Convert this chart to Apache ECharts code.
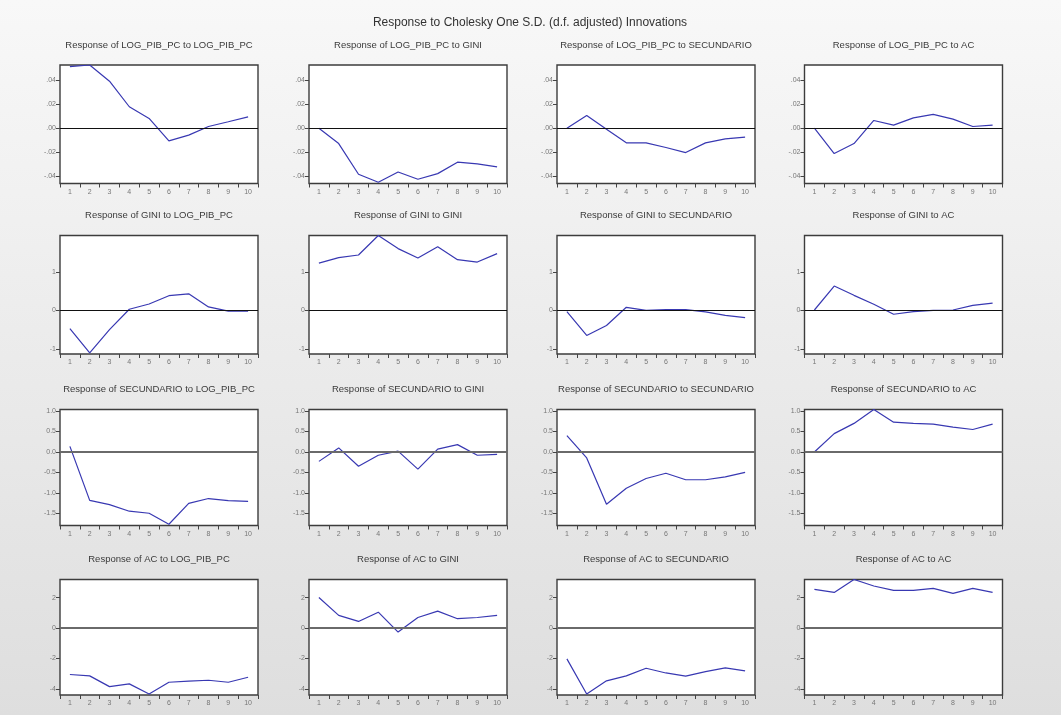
<!DOCTYPE html>
<html>
<head>
<meta charset="utf-8">
<script src="https://cdn.jsdelivr.net/npm/echarts@6/dist/echarts.min.js"></script>
<style>
  html, body { margin: 0; padding: 0; }
  #chart { width: 1061px; height: 715px; }
</style>
</head>
<body>
<div id="chart"></div>
<script>
// Impulse horizon (periods)
const periods = ['1', '2', '3', '4', '5', '6', '7', '8', '9', '10'];
const variables = ['LOG_PIB_PC', 'GINI', 'SECUNDARIO', 'AC'];

// Responses of LOG_PIB_PC
const logPibToLogPib   = [0.0512, 0.0525, 0.039, 0.0178, 0.0081, -0.0106, -0.0058, 0.0014, 0.0053, 0.0094];
const logPibToGini     = [0.0, -0.0128, -0.0383, -0.045, -0.0364, -0.0425, -0.0378, -0.0283, -0.0297, -0.0322];
const logPibToSecund   = [0.0, 0.0106, -0.001, -0.0122, -0.0122, -0.0161, -0.0203, -0.0122, -0.0089, -0.0075];
const logPibToAc       = [0.0, -0.0211, -0.0128, 0.0064, 0.0025, 0.0086, 0.0114, 0.0075, 0.0014, 0.0025];

// Responses of GINI
const giniToLogPib     = [-0.47, -1.1, -0.5, 0.03, 0.165, 0.38, 0.43, 0.09, -0.02, -0.02];
const giniToGini       = [1.226, 1.365, 1.435, 1.94, 1.6, 1.357, 1.65, 1.313, 1.252, 1.47];
const giniToSecund     = [-0.03, -0.65, -0.39, 0.08, 0.0, 0.02, 0.02, -0.04, -0.13, -0.19];
const giniToAc         = [0.01, 0.63, 0.39, 0.16, -0.1, -0.03, 0.0, 0.01, 0.13, 0.19];

// Responses of SECUNDARIO
const secundToLogPib   = [0.137, -1.185, -1.29, -1.45, -1.5, -1.77, -1.26, -1.14, -1.19, -1.21];
const secundToGini     = [-0.23, 0.1, -0.35, -0.08, 0.02, -0.42, 0.07, 0.18, -0.08, -0.06];
const secundToSecund   = [0.4, -0.145, -1.28, -0.89, -0.65, -0.52, -0.68, -0.68, -0.61, -0.5];
const secundToAc       = [0.0, 0.45, 0.7, 1.04, 0.73, 0.7, 0.68, 0.61, 0.55, 0.68];

// Responses of AC
const acToLogPib       = [-3.05, -3.14, -3.85, -3.67, -4.33, -3.56, -3.49, -3.43, -3.56, -3.23];
const acToGini         = [2.02, 0.84, 0.44, 1.05, -0.26, 0.7, 1.12, 0.62, 0.7, 0.84];
const acToSecund       = [-2.02, -4.33, -3.47, -3.14, -2.64, -2.95, -3.16, -2.86, -2.62, -2.81];
const acToAc           = [2.55, 2.35, 3.2, 2.77, 2.48, 2.48, 2.62, 2.29, 2.62, 2.35];

// Value-axis ticks shared along each row
const rowTickValues = [
  [-0.04, -0.02, 0, 0.02, 0.04],
  [-1, 0, 1],
  [-1.5, -1.0, -0.5, 0, 0.5, 1.0],
  [-4, -2, 0, 2]
];
const rowTickLabels = [
  ['-.04', '-.02', '.00', '.02', '.04'],
  ['-1', '0', '1'],
  ['-1.5', '-1.0', '-0.5', '0.0', '0.5', '1.0'],
  ['-4', '-2', '0', '2']
];
const rowMin = [-0.046, -1.13, -1.8, -4.4];
const rowMax = [0.0525, 1.94, 1.04, 3.2];

const responses = [
  [logPibToLogPib, logPibToGini, logPibToSecund, logPibToAc],
  [giniToLogPib, giniToGini, giniToSecund, giniToAc],
  [secundToLogPib, secundToGini, secundToSecund, secundToAc],
  [acToLogPib, acToGini, acToSecund, acToAc]
];

// Panel geometry
const colLeft = [60, 309, 557, 804.5];
const panelW = 198;
const rowTop = [65, 235.5, 409.5, 579.5];
const rowH = [118.5, 118.5, 116, 115.5];
const zeroStyle = [
  { color: '#111', width: 1 },
  { color: '#111', width: 1 },
  { color: '#6a6a6a', width: 2 },
  { color: '#6a6a6a', width: 2 }
];

const grid = [], xAxis = [], yAxis = [], series = [], graphic = [];

graphic.push({
  type: 'text', silent: true,
  style: {
    x: 530, y: 22.5, text: 'Response to Cholesky One S.D. (d.f. adjusted) Innovations',
    font: '12px "Liberation Sans", Arial, sans-serif', fill: '#333',
    textAlign: 'center', textVerticalAlign: 'middle'
  }
});

for (let r = 0; r < 4; r++) {
  for (let c = 0; c < 4; c++) {
    const i = r * 4 + c;
    grid.push({
      left: colLeft[c], top: rowTop[r], width: panelW, height: rowH[r],
      show: true, backgroundColor: '#fff', borderColor: '#3c3c3c', borderWidth: 1.4
    });
    xAxis.push({
      type: 'category', gridIndex: i, data: periods, boundaryGap: true,
      position: 'bottom',
      axisLine: { show: false, onZero: false },
      axisTick: { show: true, length: 4, lineStyle: { color: '#444', width: 1 } },
      axisLabel: { fontSize: 7, color: '#777', margin: 5, interval: 0,
                   fontFamily: '"Liberation Sans", Arial, sans-serif' },
      splitLine: { show: false }
    });
    const ticks = rowTickValues[r], labels = rowTickLabels[r];
    yAxis.push({
      type: 'value', gridIndex: i, min: rowMin[r], max: rowMax[r],
      position: 'left',
      axisLine: { show: false, onZero: false },
      axisTick: { show: true, length: 4, customValues: ticks, lineStyle: { color: '#444', width: 1 } },
      axisLabel: {
        fontSize: 7, color: '#777', margin: 4, customValues: ticks,
        fontFamily: '"Liberation Sans", Arial, sans-serif',
        formatter: (v) => {
          let best = 0;
          ticks.forEach((t, k) => { if (Math.abs(t - v) < Math.abs(ticks[best] - v)) best = k; });
          return labels[best];
        }
      },
      splitLine: { show: false }
    });
    series.push({
      type: 'line', xAxisIndex: i, yAxisIndex: i, data: responses[r][c],
      symbol: 'none', smooth: false,
      lineStyle: { color: '#3838b2', width: 1.2 },
      markLine: {
        silent: true, symbol: 'none', animation: false,
        label: { show: false },
        lineStyle: { color: zeroStyle[r].color, width: zeroStyle[r].width, type: 'solid' },
        data: [{ yAxis: 0 }]
      },
      z: 3
    });
    graphic.push({
      type: 'text', silent: true,
      style: {
        x: colLeft[c] + panelW / 2, y: rowTop[r] - 20,
        text: 'Response of ' + variables[r] + ' to ' + variables[c],
        font: '9.5px "Liberation Sans", Arial, sans-serif', fill: '#3a3a3a',
        textAlign: 'center', textVerticalAlign: 'middle'
      }
    });
  }
}

const chart = echarts.init(document.getElementById('chart'), null, { renderer: 'canvas' });
chart.setOption({
  animation: false,
  backgroundColor: {
    type: 'linear', x: 0, y: 0, x2: 0, y2: 1,
    colorStops: [{ offset: 0, color: '#f8f8f8' }, { offset: 1, color: '#dedede' }]
  },
  grid, xAxis, yAxis, series, graphic
});
</script>
</body>
</html>
